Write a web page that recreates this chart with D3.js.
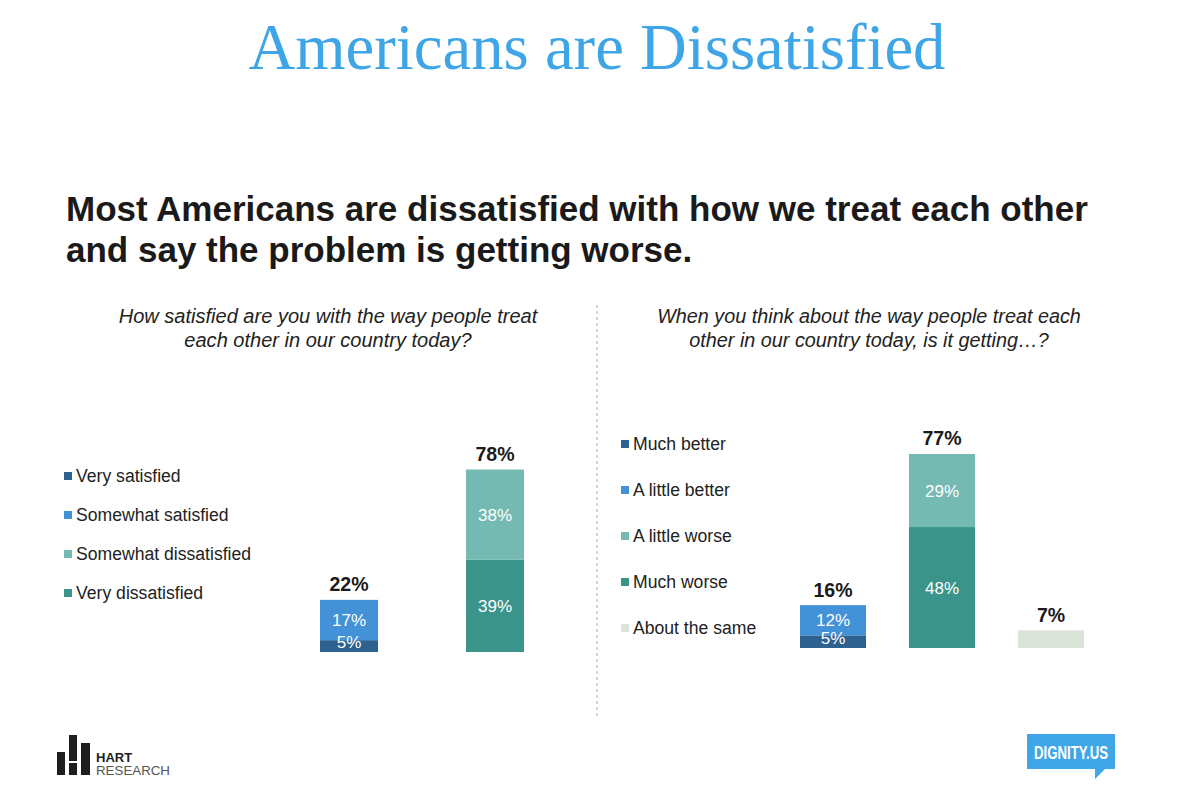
<!DOCTYPE html>
<html>
<head>
<meta charset="utf-8">
<script src="https://cdn.jsdelivr.net/npm/d3@7"></script>
<style>
  body { margin: 0; background: #fff; }
  svg text { font-family: "Liberation Sans", Arial, sans-serif; }
</style>
</head>
<body>
<svg id="chart" width="1188" height="804"></svg>
<script>
// left question: satisfaction
var leftCategories = ["Satisfied", "Dissatisfied"];
var leftKeys = ["Very satisfied", "Somewhat satisfied", "Somewhat dissatisfied", "Very dissatisfied"];
var leftStackOrder = ["Very satisfied", "Somewhat satisfied", "Very dissatisfied", "Somewhat dissatisfied"];
var verySatisfied = [5, 0];
var somewhatSatisfied = [17, 0];
var somewhatDissatisfied = [0, 38];
var veryDissatisfied = [0, 39];
var leftTotals = ["22%", "78%"];

// right question: getting better / worse
var rightCategories = ["Better", "Worse", "Same"];
var rightKeys = ["Much better", "A little better", "A little worse", "Much worse", "About the same"];
var rightStackOrder = ["Much better", "A little better", "Much worse", "A little worse", "About the same"];
var muchBetter = [5, 0, 0];
var littleBetter = [12, 0, 0];
var littleWorse = [0, 29, 0];
var muchWorse = [0, 48, 0];
var aboutSame = [0, 0, 7];
var rightTotals = ["16%", "77%", "7%"];

var colors = {
	"Very satisfied": "#2d6190",
	"Somewhat satisfied": "#4392d7",
	"Somewhat dissatisfied": "#74b9b2",
	"Very dissatisfied": "#3a9489",
	"Much better": "#2d6190",
	"A little better": "#4392d7",
	"A little worse": "#74b9b2",
	"Much worse": "#3a9489",
	"About the same": "#dbe4d9"
};

var svg = d3.select("#chart");

// scale a text's font size so it spans the given width
function fitWidth(sel, size, width) {
	var w = sel.node().getComputedTextLength();
	sel.style("font-size", (size * width / w) + "px");
	return size * width / w;
}

// title
var title = svg.append("text")
	.attr("x", 597).attr("y", 69)
	.attr("text-anchor", "middle")
	.style("font-family", "'Liberation Serif', 'DejaVu Serif', serif")
	.style("font-size", "60px")
	.attr("fill", "#3ea5e6")
	.text("Americans are Dissatisfied");
fitWidth(title, 60, 697);

// headline
var head1 = svg.append("text").attr("x", 66).attr("y", 221)
	.style("font-size", "31px").style("font-weight", "bold").attr("fill", "#1a1a1a")
	.text("Most Americans are dissatisfied with how we treat each other");
var headSize = fitWidth(head1, 31, 1022);
svg.append("text").attr("x", 66).attr("y", 262)
	.style("font-size", headSize + "px").style("font-weight", "bold").attr("fill", "#1a1a1a")
	.text("and say the problem is getting worse.");

// questions
function question(x, lines, firstWidth) {
	var size = 18;
	lines.forEach(function(line, i) {
		var t = svg.append("text").attr("x", x).attr("y", 323 + i * 24)
			.attr("text-anchor", "middle")
			.style("font-size", size + "px").style("font-style", "italic").attr("fill", "#222")
			.text(line);
		if (i === 0) size = fitWidth(t, 18, firstWidth);
	});
}
question(328, ["How satisfied are you with the way people treat", "each other in our country today?"], 419);
question(869, ["When you think about the way people treat each", "other in our country today, is it getting\u2026?"], 424);

// dashed divider
svg.append("line")
	.attr("x1", 597).attr("x2", 597).attr("y1", 305).attr("y2", 716)
	.attr("stroke", "#aaa").attr("stroke-width", 1).attr("stroke-dasharray", "3,3");

// legend
function legend(x, y0, step, keys) {
	var g = svg.append("g");
	keys.forEach(function(key, i) {
		var y = y0 + i * step;
		g.append("rect").attr("x", x).attr("y", y - 4).attr("width", 8).attr("height", 8)
			.attr("fill", colors[key]);
		g.append("text").attr("x", x + 12).attr("y", y)
			.attr("dy", "0.35em")
			.style("font-size", "17.6px").attr("fill", "#222")
			.text(key);
	});
}
legend(64, 476, 39, leftKeys);
legend(621, 444, 46, rightKeys);

// stacked bars
function stackedBars(categories, seriesMap, order, totals, xRange, padding, yBottom, pxPerPct) {
	var rows = categories.map(function(c, i) {
		var row = {category: c};
		order.forEach(function(k) { row[k] = seriesMap[k][i]; });
		return row;
	});
	var stacked = d3.stack().keys(order)(rows);

	var x = d3.scaleBand().domain(categories).range(xRange)
		.paddingInner(padding).paddingOuter(0);
	var y = d3.scaleLinear().domain([0, 100]).range([yBottom, yBottom - 100 * pxPerPct]);

	var segments = [];
	stacked.forEach(function(layer) {
		layer.forEach(function(d) {
			if (d[1] - d[0] > 0) segments.push({key: layer.key, cat: d.data.category, y0: d[0], y1: d[1]});
		});
	});

	var g = svg.append("g");
	g.selectAll("rect").data(segments).join("rect")
		.attr("x", function(d) { return x(d.cat); })
		.attr("width", x.bandwidth())
		.attr("y", function(d) { return y(d.y1); })
		.attr("height", function(d) { return y(d.y0) - y(d.y1); })
		.attr("fill", function(d) { return colors[d.key]; });

	// segment values (drawn after all rects so small ones stay visible)
	g.selectAll("text.seg").data(segments.filter(function(d) { return d.key !== "About the same"; }))
		.join("text").attr("class", "seg")
		.attr("x", function(d) { return x(d.cat) + x.bandwidth() / 2; })
		.attr("y", function(d) { return Math.min((y(d.y0) + y(d.y1)) / 2, y(d.y0) - 10); })
		.attr("dy", "0.36em").attr("text-anchor", "middle")
		.style("font-size", "17px").attr("fill", "#fff")
		.text(function(d) { return (d.y1 - d.y0) + "%"; });

	// totals above each bar
	categories.forEach(function(c, i) {
		var top = d3.max(stacked, function(layer) { return layer[i][1]; });
		g.append("text")
			.attr("x", x(c) + x.bandwidth() / 2).attr("y", y(top) - 15.5)
			.attr("dy", "0.36em").attr("text-anchor", "middle")
			.style("font-size", "19.5px").style("font-weight", "bold").attr("fill", "#1a1a1a")
			.text(totals[i]);
	});
}

stackedBars(leftCategories, {
	"Very satisfied": verySatisfied,
	"Somewhat satisfied": somewhatSatisfied,
	"Somewhat dissatisfied": somewhatDissatisfied,
	"Very dissatisfied": veryDissatisfied
}, leftStackOrder, leftTotals, [320, 524], 0.6027, 652, 2.37);

stackedBars(rightCategories, {
	"Much better": muchBetter,
	"A little better": littleBetter,
	"A little worse": littleWorse,
	"Much worse": muchWorse,
	"About the same": aboutSame
}, rightStackOrder, rightTotals, [800, 1084], 0.3945, 648, 2.52);

// HART RESEARCH logo
var hart = svg.append("g");
hart.append("rect").attr("x", 57).attr("y", 752).attr("width", 8).attr("height", 23).attr("fill", "#1e1e1e");
hart.append("rect").attr("x", 69).attr("y", 735).attr("width", 8).attr("height", 26).attr("fill", "#1e1e1e");
hart.append("rect").attr("x", 69).attr("y", 763).attr("width", 8).attr("height", 12).attr("fill", "#1e1e1e");
hart.append("rect").attr("x", 81).attr("y", 743).attr("width", 9).attr("height", 32).attr("fill", "#1e1e1e");
hart.append("text").attr("x", 96).attr("y", 762)
	.style("font-size", "13px").style("font-weight", "bold").attr("fill", "#1e1e1e").text("HART");
hart.append("text").attr("x", 96).attr("y", 775)
	.attr("textLength", 74).attr("lengthAdjust", "spacingAndGlyphs")
	.style("font-size", "13px").attr("fill", "#555").text("RESEARCH");

// DIGNITY.US logo
var dig = svg.append("g");
dig.append("rect").attr("x", 1027).attr("y", 734).attr("width", 88).attr("height", 35).attr("fill", "#3fa6e8");
dig.append("path").attr("d", "M1095,768 L1106,768 L1095,779 Z").attr("fill", "#3fa6e8");
dig.append("text").attr("x", 1071).attr("y", 759)
	.attr("text-anchor", "middle")
	.attr("textLength", 74).attr("lengthAdjust", "spacingAndGlyphs")
	.style("font-size", "19px").style("font-weight", "bold").attr("fill", "#fff").text("DIGNITY.US");
</script>
</body>
</html>
